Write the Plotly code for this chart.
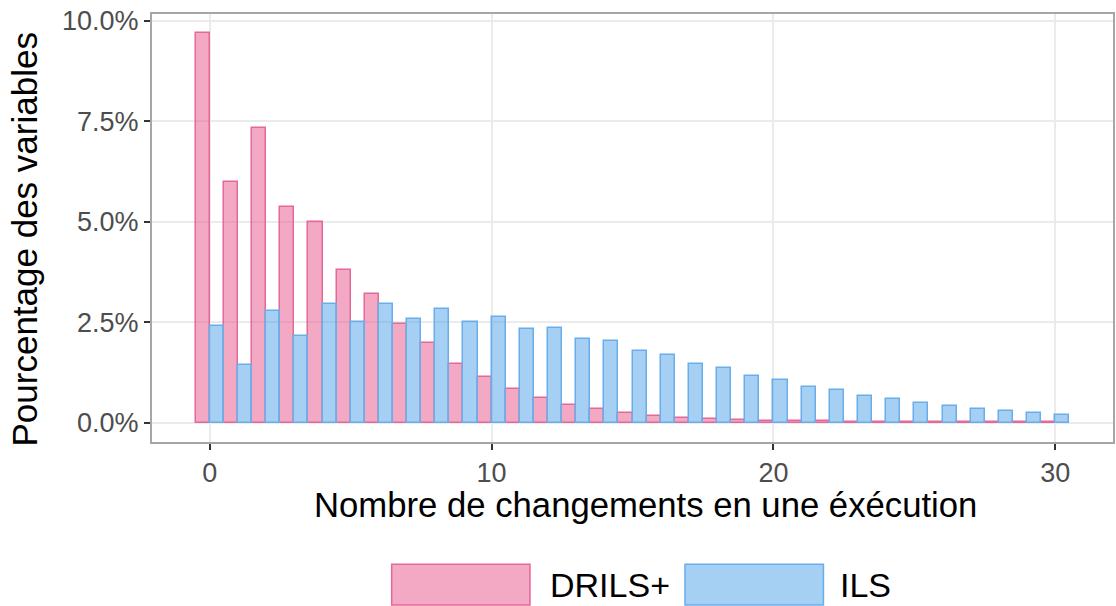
import plotly.graph_objects as go

# number of changes per run
changes = list(range(31))

# % of variables
drils = [9.68, 5.99, 7.33, 5.37, 5.00, 3.80, 3.21, 2.44, 1.97, 1.46,
         1.13, 0.83, 0.62, 0.44, 0.33, 0.23, 0.17, 0.12, 0.09, 0.06,
         0.05, 0.04, 0.03, 0.02, 0.02, 0.01, 0.01, 0.01, 0.01, 0.01, 0.01]
ils = [2.40, 1.43, 2.77, 2.15, 2.94, 2.50, 2.95, 2.58, 2.82, 2.51,
       2.62, 2.33, 2.34, 2.07, 2.02, 1.77, 1.68, 1.46, 1.36, 1.16,
       1.06, 0.89, 0.80, 0.66, 0.59, 0.49, 0.40, 0.33, 0.29, 0.23, 0.18]

series_names = ["DRILS+", "ILS"]
fill_colors = ["rgba(231,84,138,0.5)", "rgba(78,160,234,0.5)"]
line_colors = ["#e4689a", "#69aeea"]

font = "Liberation Sans, Arial, sans-serif"

fig = go.Figure()
for name, vals, fc, lc in zip(series_names, [drils, ils], fill_colors, line_colors):
    fig.add_bar(x=changes, y=[v / 100 for v in vals], name=name,
                marker=dict(color=fc, line=dict(color=lc, width=1.5)),
                showlegend=False)

fig.update_layout(
    barmode="group", bargap=0.0, bargroupgap=0.0,
    width=1116, height=606,
    margin=dict(l=152, r=3, t=14, b=164),
    plot_bgcolor="white", paper_bgcolor="white",
    font=dict(family=font),
)
fig.update_xaxes(
    range=[-2.05, 32.05], tickvals=[0, 10, 20, 30], automargin=False,
    showgrid=True, gridcolor="#ebebeb", gridwidth=1.5, zeroline=False,
    ticks="outside", ticklen=6, tickwidth=1.5, tickcolor="#333333",
    tickfont=dict(size=27, color="#4d4d4d"),
    showline=True, linecolor="#a6a6a6", linewidth=2, mirror=True,
)
fig.update_yaxes(
    range=[-0.00484, 0.10164], tickvals=[0, 0.025, 0.05, 0.075, 0.10], automargin=False,
    ticktext=["0.0%", "2.5%", "5.0%", "7.5%", "10.0%"],
    showgrid=True, gridcolor="#ebebeb", gridwidth=1.5, zeroline=False,
    ticks="outside", ticklen=6, tickwidth=1.5, tickcolor="#333333",
    tickfont=dict(size=27, color="#4d4d4d"),
    showline=True, linecolor="#a6a6a6", linewidth=2, mirror=True,
)

# axis titles as annotations so they sit where the reference has them
fig.add_annotation(xref="paper", yref="paper", x=0.5135, y=-0.147,
                   text="Nombre de changements en une éxécution", showarrow=False,
                   xanchor="center", yanchor="middle",
                   font=dict(size=34.7, color="black", family=font))
fig.add_annotation(xref="paper", yref="paper", x=-0.1322, y=0.473,
                   text="Pourcentage des variables", showarrow=False, textangle=-90,
                   xanchor="center", yanchor="middle",
                   font=dict(size=35, color="black", family=font))

# legend drawn at the bottom, ggplot-style wide keys
legend_keys = [(0.2494, 0.3933, 0.412), (0.5546, 0.6987, 0.714)]
for (x0, x1, tx), name, fc, lc in zip(legend_keys, series_names, fill_colors, line_colors):
    fig.add_shape(type="rect", xref="paper", yref="paper",
                  x0=x0, x1=x1, y0=-0.381, y1=-0.2857,
                  fillcolor=fc, line=dict(color=lc, width=1.5))
    fig.add_annotation(xref="paper", yref="paper", x=tx, y=-0.334,
                       text=name, showarrow=False, xanchor="left", yanchor="middle",
                       font=dict(size=34, color="black", family=font))

# drop the default 8px body margin so the figure sits at the window corner
fig.write_html("out.html", config={"displayModeBar": False},
               post_script="document.body.style.margin = '0';")
